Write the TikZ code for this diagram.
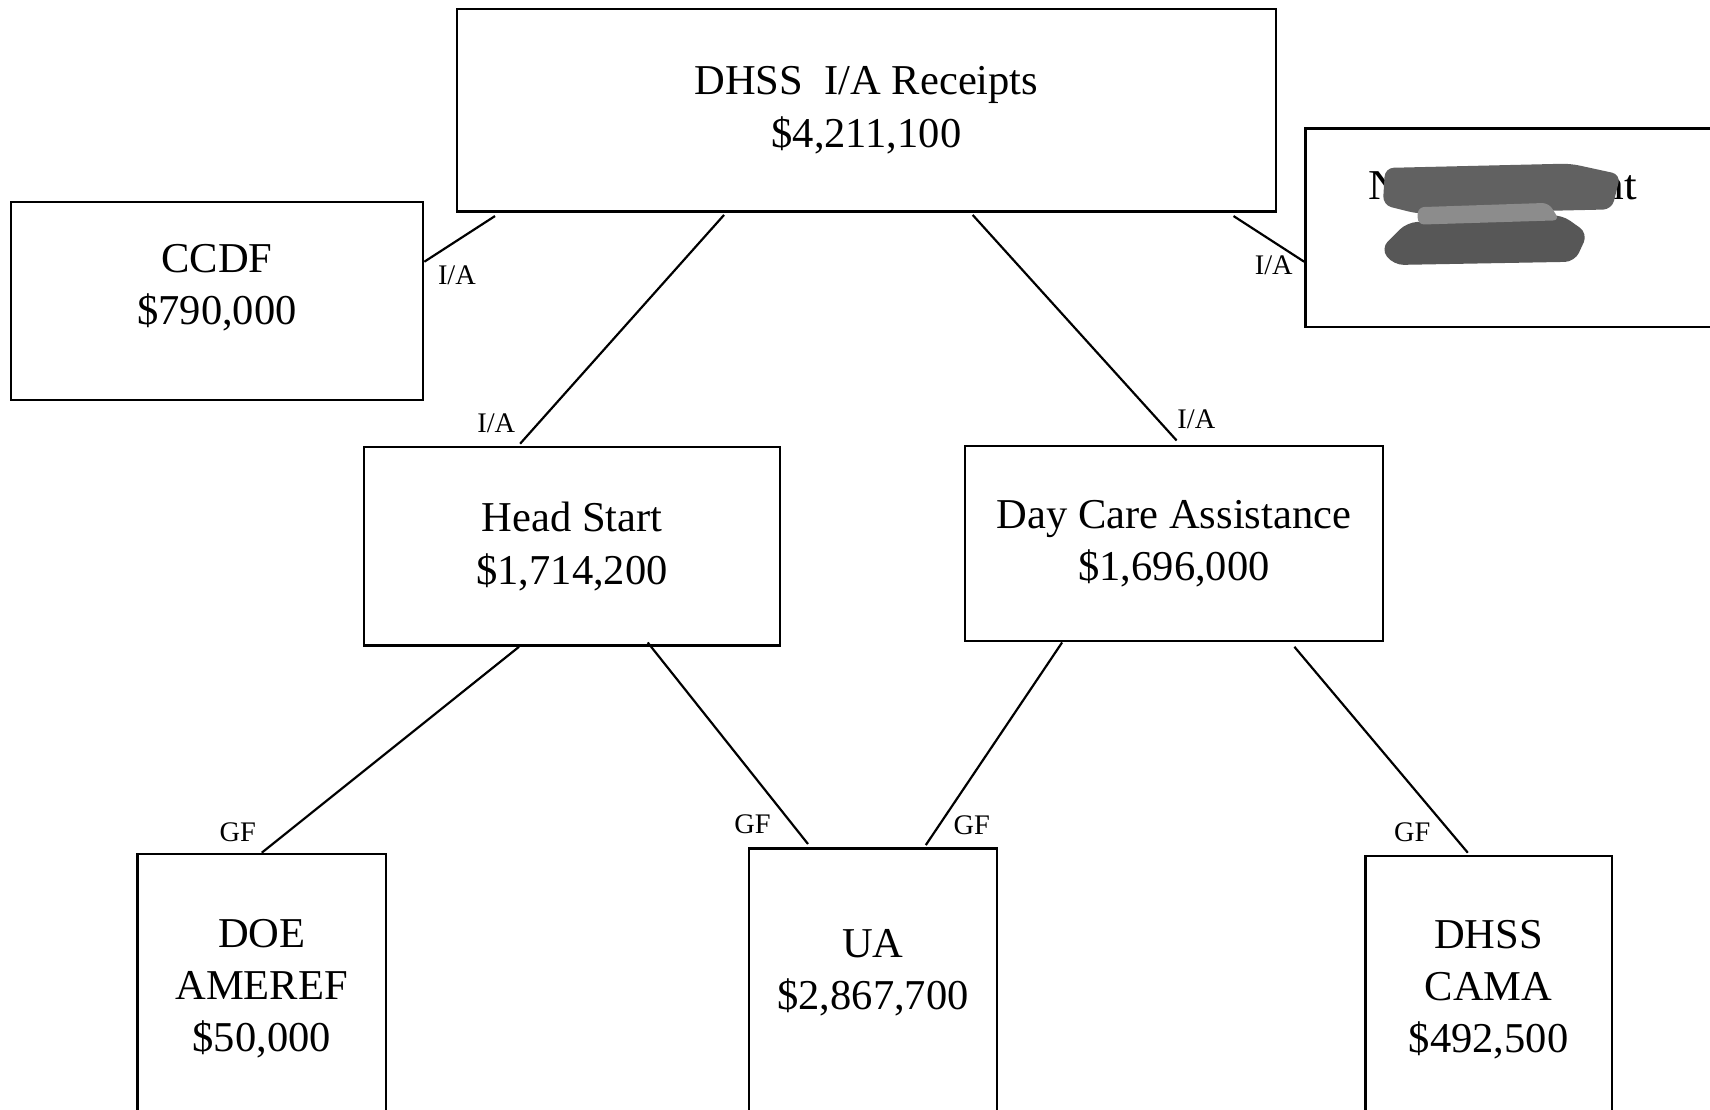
\documentclass[tikz,border=0pt]{standalone}
\usepackage{fontspec}
\setmainfont{Liberation Serif}
\begin{document}
\begin{tikzpicture}[x=1pt,y=-1pt,
  box/.style={draw, line width=2.2pt, inner sep=0pt, align=center, fill=white,
              font=\fontsize{39}{48}\selectfont},
  conn/.style={line width=2pt},
  lbl/.style={inner sep=0pt, font=\fontsize{26}{30}\selectfont}]
\useasboundingbox (0,0) rectangle (1568,1017);
% boxes
\node[box, minimum width=751pt, minimum height=186pt] (top) at (794.5,101) {DHSS\ \ I/A Receipts\\\$4,211,100};
\node[box, minimum width=378pt, minimum height=182pt, text depth=30pt] (ccdf) at (199,276) {CCDF\\\$790,000};
\node[box, minimum width=383pt, minimum height=182pt] (rgt) at (1388.5,209) {};
\node[box, minimum width=381pt, minimum height=182pt] (hs) at (524.5,501) {Head Start\\\$1,714,200};
\node[box, minimum width=383pt, minimum height=179pt] (dc) at (1076.5,498.5) {Day Care Assistance\\\$1,696,000};
\node[box, minimum width=228pt, minimum height=247pt] (doe) at (240,906.5) {DOE\\AMEREF\\\$50,000};
\node[box, minimum width=227pt, minimum height=252pt, text depth=30pt] (ua) at (800.5,904) {UA\\\$2,867,700};
\node[box, minimum width=226pt, minimum height=245pt] (cama) at (1365,907.5) {DHSS\\CAMA\\\$492,500};
% redacted content of right box
\node[font=\fontsize{39}{48}\selectfont, anchor=west, inner sep=0pt, xscale=1.07] (rtxt) at (1255,174) {Non-Recipient};
\fill[black!62, rounded corners=8pt] (1270,154) -- (1440,150) -- (1486,160) -- (1478,192) -- (1300,196) -- (1268,188) -- cycle;
\fill[black!66, rounded corners=9pt] (1290,204) -- (1432,197) -- (1456,214) -- (1444,240) -- (1278,243) -- (1266,228) -- cycle;
\fill[black!45, rounded corners=6pt] (1300,190) -- (1420,186) -- (1430,202) -- (1300,206) -- cycle;
% connectors
\draw[conn] ([yshift=36pt]ccdf.east) -- ([xshift=36pt,yshift=-3pt]top.south west);
\draw[conn] ([xshift=246pt,yshift=-2pt]top.south west) -- ([xshift=144pt,yshift=2pt]hs.north west);
\draw[conn] ([xshift=474pt,yshift=-2pt]top.south west) -- ([xshift=195pt,yshift=4pt]dc.north west);
\draw[conn] ([xshift=-40pt,yshift=-3pt]top.south east) -- ([yshift=-31pt]rgt.west);
\draw[conn] ([xshift=143pt]hs.south west) -- (doe.north);
\draw[conn] ([xshift=261pt,yshift=4pt]hs.south west) -- ([xshift=55pt,yshift=3pt]ua.north west);
\draw[conn] ([xshift=90pt]dc.south west) -- ([xshift=163pt,yshift=2pt]ua.north west);
\draw[conn] ([xshift=303pt,yshift=-4pt]dc.south west) -- ([xshift=95pt,yshift=2pt]cama.north west);
% labels
\node[lbl] (l1) at (419,252) {I/A};
\node[lbl] (l2) at (455,388) {I/A};
\node[lbl] (l3) at (1097,384) {I/A};
\node[lbl] (l4) at (1168,243) {I/A};
\node[lbl] (g1) at (218,763) {GF};
\node[lbl] (g2) at (690,756) {GF};
\node[lbl] (g3) at (891,757) {GF};
\node[lbl] (g4) at (1295,763) {GF};
\end{tikzpicture}
\end{document}
